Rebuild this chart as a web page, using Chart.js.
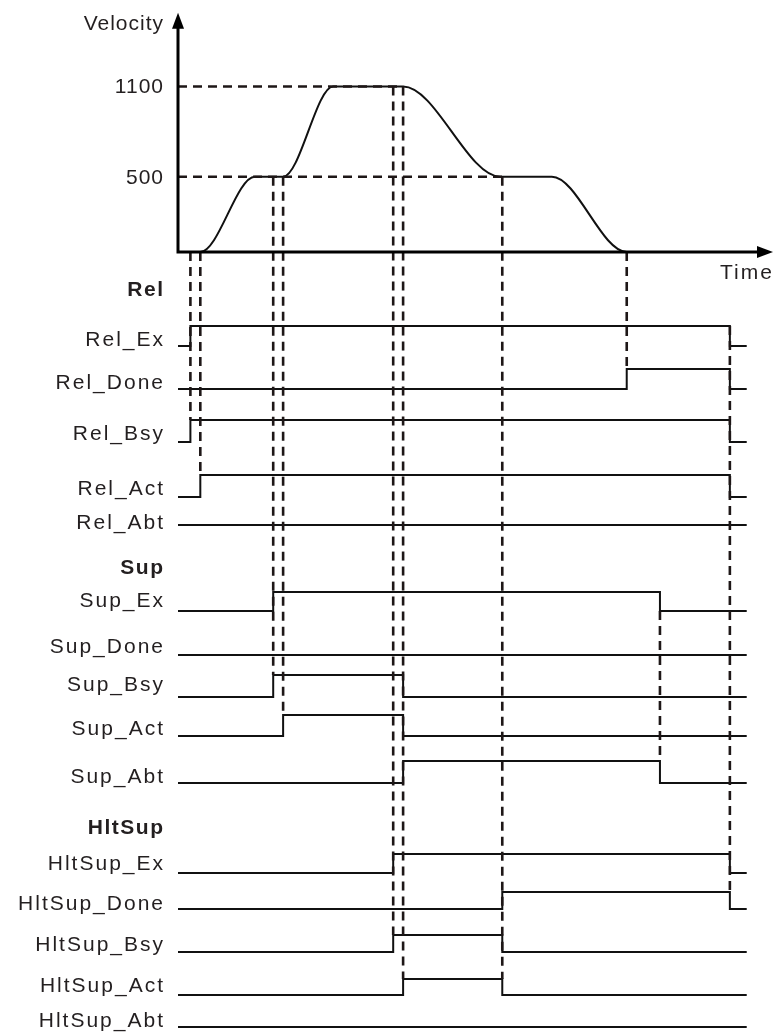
<!DOCTYPE html>
<html>
<head>
<meta charset="utf-8">
<script src="https://cdn.jsdelivr.net/npm/chart.js@4.4.0/dist/chart.umd.min.js"></script>
<style>
html, body { margin: 0; padding: 0; background: #fff; }
canvas { display: block; }
</style>
</head>
<body>
<canvas id="timing" width="776" height="1034"></canvas>
<script>
// velocity profile: time -> velocity
var velTimes  = [0, 4.5, 15.5, 21.2, 31.3, 45.4, 65, 75.4, 90.5, 95];
var velValues = [0, 0, 500, 500, 1100, 1100, 500, 500, 0, 0];
var velTicks  = [1100, 500];

// signals: every edge toggles the level, all start low
var relNames = ["Rel_Ex", "Rel_Done", "Rel_Bsy", "Rel_Act", "Rel_Abt"];
var relEdges = [[2.5, 111.3], [90.5, 111.3], [2.5, 111.3], [4.5, 111.3], []];
var supNames = ["Sup_Ex", "Sup_Done", "Sup_Bsy", "Sup_Act", "Sup_Abt"];
var supEdges = [[19.2, 97.2], [], [19.2, 45.4], [21.2, 45.4], [45.4, 97.2]];
var hltNames = ["HltSup_Ex", "HltSup_Done", "HltSup_Bsy", "HltSup_Act", "HltSup_Abt"];
var hltEdges = [[43.4, 111.3], [65.4, 111.3], [43.4, 65.4], [45.4, 65.4], []];
var timeEnd = 114.7;

// dashed reference lines: time, from (velocity or signal level), to
var guides = [
    { t: 2.5,   from: { v: 0 },    to: { sig: "Rel_Bsy", lvl: 1 } },
    { t: 4.5,   from: { v: 0 },    to: { sig: "Rel_Act", lvl: 1 } },
    { t: 19.2,  from: { v: 500 },  to: { sig: "Sup_Bsy", lvl: 1 } },
    { t: 21.2,  from: { v: 500 },  to: { sig: "Sup_Act", lvl: 1 } },
    { t: 43.4,  from: { v: 1100 }, to: { sig: "HltSup_Bsy", lvl: 1 } },
    { t: 45.4,  from: { v: 1100 }, to: { sig: "HltSup_Act", lvl: 1 } },
    { t: 65.4,  from: { v: 500 },  to: { sig: "HltSup_Act", lvl: 1 } },
    { t: 90.5,  from: { v: 0 },    to: { sig: "Rel_Done", lvl: 1 } },
    { t: 97.2,  from: { sig: "Sup_Ex", lvl: 0 }, to: { sig: "Sup_Abt", lvl: 1 } },
    { t: 111.3, from: { sig: "Rel_Ex", lvl: 1 }, to: { sig: "HltSup_Done", lvl: 1 } }
];
var levelGuides = [[1100, 45.4], [500, 65.4]];

// ---- layout (row baseline, step height, label centre) ----
var rows = {
    Rel_Ex: [346, 20, 340], Rel_Done: [389, 20, 383], Rel_Bsy: [442, 22, 434],
    Rel_Act: [497, 22, 489], Rel_Abt: [525, 0, 523],
    Sup_Ex: [611, 19, 601], Sup_Done: [655, 0, 647], Sup_Bsy: [697, 22, 685],
    Sup_Act: [736, 21, 729], Sup_Abt: [783, 22, 777],
    HltSup_Ex: [873, 19, 864], HltSup_Done: [909, 17, 904], HltSup_Bsy: [952, 17, 945],
    HltSup_Act: [995, 16, 986], HltSup_Abt: [1027, 0, 1021]
};
var headers = [["Rel", 290], ["Sup", 568], ["HltSup", 828]];
var chartH = 1034;
var zeroPx = 252, topPx = 86.5, axisTopV = 1590;
var vRange = 1100 * chartH / (zeroPx - topPx);
var vMax = zeroPx / chartH * vRange;
var vMin = vMax - vRange;
var ink = "#111";
var dashInk = "#1e1717";
var fontName = '"Liberation Sans", Arial, sans-serif';

function sigY(name, lvl) {
    return rows[name][0] - lvl * rows[name][1];
}

function stepPoints(name, edges) {
    var lvl = 0;
    var pts = [{ x: 0, y: sigY(name, 0) }];
    edges.forEach(function(t) {
        lvl = 1 - lvl;
        pts.push({ x: t, y: sigY(name, lvl) });
    });
    pts.push({ x: timeEnd, y: sigY(name, lvl) });
    return pts;
}

var datasets = [];
levelGuides.forEach(function(g) {
    datasets.push({
        data: [{ x: 0, y: g[0] }, { x: g[1], y: g[0] }],
        yAxisID: "yv", borderColor: dashInk, borderWidth: 2.6,
        borderDash: [9, 6], pointRadius: 0
    });
});
datasets.push({
    data: velTimes.map(function(t, i) { return { x: t, y: velValues[i] }; }),
    yAxisID: "yv", borderColor: ink, borderWidth: 2,
    cubicInterpolationMode: "monotone", pointRadius: 0
});
[[relNames, relEdges], [supNames, supEdges], [hltNames, hltEdges]].forEach(function(grp) {
    grp[0].forEach(function(name, i) {
        datasets.push({
            label: name,
            data: stepPoints(name, grp[1][i]),
            yAxisID: "ys", borderColor: ink, borderWidth: 2,
            stepped: "before", pointRadius: 0, borderJoinStyle: "miter"
        });
    });
});

function text(ctx, s, x, y, align, bold, spacing) {
    ctx.font = (bold ? "bold " : "") + "21px " + fontName;
    ctx.letterSpacing = spacing + "px";
    ctx.textAlign = align;
    ctx.textBaseline = "middle";
    ctx.fillStyle = "#231f20";
    ctx.fillText(s, align === "right" ? x + spacing : x, y);
}

var decor = {
    id: "decor",
    afterDatasetsDraw: function(chart) {
        var ctx = chart.ctx, xs = chart.scales.x, yv = chart.scales.yv, ys = chart.scales.ys;
        function py(ref) {
            return ref.v !== undefined ? yv.getPixelForValue(ref.v) : ys.getPixelForValue(sigY(ref.sig, ref.lvl));
        }
        ctx.save();
        ctx.strokeStyle = dashInk;
        ctx.lineWidth = 2.6;
        ctx.setLineDash([9, 6]);
        guides.forEach(function(g) {
            var px = xs.getPixelForValue(g.t);
            ctx.beginPath();
            ctx.moveTo(px, py(g.from));
            ctx.lineTo(px, py(g.to));
            ctx.stroke();
        });
        ctx.setLineDash([]);

        // axes with arrows
        var x0 = xs.getPixelForValue(0), y0 = yv.getPixelForValue(0);
        var yTop = yv.getPixelForValue(axisTopV), xEnd = xs.getPixelForValue(xs.max);
        ctx.strokeStyle = "#000";
        ctx.fillStyle = "#000";
        ctx.lineWidth = 3;
        ctx.beginPath();
        ctx.moveTo(x0, y0 + 1.5);
        ctx.lineTo(x0, yTop + 10);
        ctx.moveTo(x0 - 1.5, y0);
        ctx.lineTo(xEnd - 10, y0);
        ctx.stroke();
        ctx.beginPath();
        ctx.moveTo(x0, yTop);
        ctx.lineTo(x0 - 6, yTop + 16);
        ctx.lineTo(x0 + 6, yTop + 16);
        ctx.closePath();
        ctx.fill();
        ctx.beginPath();
        ctx.moveTo(xEnd, y0);
        ctx.lineTo(xEnd - 16, y0 - 6);
        ctx.lineTo(xEnd - 16, y0 + 6);
        ctx.closePath();
        ctx.fill();

        // texts
        text(ctx, "Velocity", 163, 24, "right", false, 1);
        velTicks.forEach(function(v) {
            text(ctx, String(v), 163, yv.getPixelForValue(v) + 1, "right", false, 1);
        });
        text(ctx, "Time", 720, 273, "left", false, 2);
        headers.forEach(function(h) {
            text(ctx, h[0], 163, h[1], "right", true, 1.5);
        });
        relNames.concat(supNames, hltNames).forEach(function(n) {
            text(ctx, n, 163, rows[n][2], "right", false, 2);
        });
        ctx.letterSpacing = "0px";
        ctx.restore();
    }
};

new Chart(document.getElementById("timing"), {
    type: "line",
    data: { datasets: datasets },
    options: {
        responsive: false,
        animation: false,
        layout: { padding: { left: 178, right: 3, top: 0, bottom: 0 } },
        plugins: { legend: { display: false }, tooltip: { enabled: false } },
        scales: {
            x: { type: "linear", min: 0, max: 120, display: false },
            yv: { type: "linear", min: vMin, max: vMax, bounds: "data", display: false },
            ys: { type: "linear", min: 0, max: chartH, reverse: true, display: false }
        }
    },
    plugins: [decor]
});
</script>
</body>
</html>
